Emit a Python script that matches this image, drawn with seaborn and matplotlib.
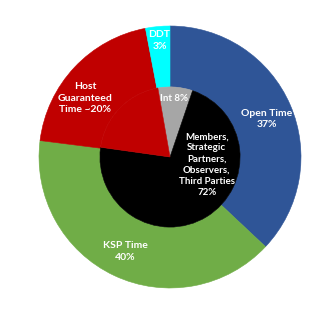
import numpy as np
import matplotlib.pyplot as plt
import seaborn as sns

# outer ring: time allocation
outer_labels = ["Open Time\n37%", "KSP Time\n40%", "Host\nGuaranteed\nTime ~20%", "DDT\n3%"]
outer_values = [37, 40, 20, 3]
outer_colors = ["#2F5597", "#70AD47", "#C00000", "#00FFFF"]

# inner pie: who gets it
inner_labels = ["Int 8%", "Members,\nStrategic\nPartners,\nObservers,\nThird Parties\n72%", ""]
inner_values = [8, 72, 20]
inner_colors = ["#A6A6A6", "#000000", "#C00000"]

sns.set_theme(style="white")
plt.rcParams['font.family'] = ['Lato', 'DejaVu Sans']

fig = plt.figure(figsize=(3.27, 3.10), dpi=100)
ax = fig.add_axes([39/327, 22/310, 262/327, 262/310])

wo, to = ax.pie(outer_values, labels=outer_labels, colors=outer_colors, startangle=90,
                counterclock=False, radius=1.0, labeldistance=0.8,
                wedgeprops=dict(width=0.465, linewidth=0),
                textprops=dict(color="white", fontsize=7.5, fontweight="bold",
                               ha="center", va="center", linespacing=1.4))
wi, ti = ax.pie(inner_values, labels=inner_labels, colors=inner_colors, startangle=100,
                counterclock=False, radius=0.535, labeldistance=0.86,
                wedgeprops=dict(linewidth=0),
                textprops=dict(color="white", fontsize=7, fontweight="bold",
                               ha="center", va="center", linespacing=1.32))

# hide the seams between touching wedges
for w in list(wo) + list(wi):
    w.set_edgecolor(w.get_facecolor())
    w.set_linewidth(0.4)

# nudge a few labels to where the original has them
to[0].set_position((0.74, 0.29))
to[2].set_position((-0.65, 0.45))
to[3].set_position((-0.08, 0.89))
ti[0].set_position((0.03, 0.45))
ti[1].set_position((0.28, -0.06))

ax.set_xlim(-1, 1)
ax.set_ylim(-1, 1)
ax.set_aspect("equal")
ax.axis("off")

fig.savefig("out.png", dpi=100)
